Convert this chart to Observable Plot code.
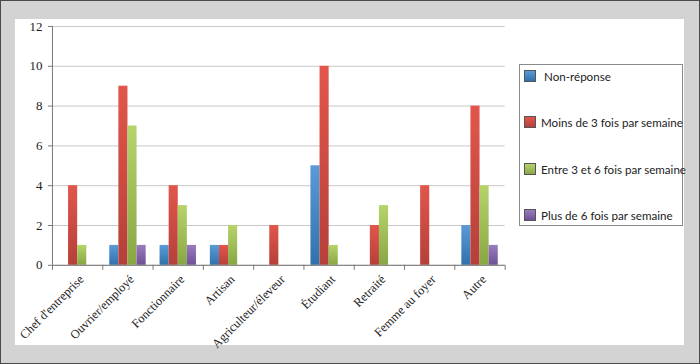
<!DOCTYPE html>
<html>
<head>
<meta charset="utf-8">
<script src="https://cdn.jsdelivr.net/npm/d3@7"></script>
<script src="https://cdn.jsdelivr.net/npm/@observablehq/plot@0.6"></script>
<style>
  html, body { margin: 0; padding: 0; }
  #frame { position: relative; width: 700px; height: 364px; box-sizing: border-box;
           border: 1.5px solid #4a4a4a; background: #d3d3d4; overflow: hidden; }
  #panel { position: absolute; left: 14px; top: 18px; width: 669px; height: 326px; background: #fff; }
  #chart { position: absolute; left: -1.5px; top: -1.5px; }
  #legend { position: absolute; left: 518px; top: 63px; width: 162px; height: 160px;
            border: 1px solid #8a8a8a; background: #fff; box-sizing: content-box;
            font-family: Lato, "Open Sans", sans-serif; font-size: 11.6px; color: #222; }
  .item { position: absolute; left: 4px; height: 12px; display: flex; align-items: center; white-space: nowrap; }
  .sw { width: 10px; height: 10px; border: 1px solid #555; margin-right: 5px; }
</style>
</head>
<body>
<div id="frame"><div id="panel"></div><div id="chart"></div><div id="legend"></div></div>
<script>
const categories = ["Chef d'entreprise", "Ouvrier/employé", "Fonctionnaire", "Artisan",
  "Agriculteur/éleveur", "Étudiant", "Retraité", "Femme au foyer", "Autre"];
const series = ["Non-réponse", "Moins de 3 fois par semaine", "Entre 3 et 6 fois par semaine", "Plus de 6 fois par semaine"];
const nonReponse = [0, 1, 1, 1, 0, 5, 0, 0, 2];
const moinsDe3   = [4, 9, 4, 1, 2, 10, 2, 4, 8];
const entre3et6  = [1, 7, 3, 2, 0, 1, 3, 0, 4];
const plusDe6    = [0, 1, 1, 0, 0, 0, 0, 0, 1];
const yTicks = [0, 2, 4, 6, 8, 10, 12];
const gradTop    = ["#5a9ad6", "#e2564c", "#b6d46a", "#9a7bbf"];
const gradBottom = ["#3172ad", "#b5403a", "#88a744", "#6f5196"];

const valuesBySeries = [nonReponse, moinsDe3, entre3et6, plusDe6];
const rows = [];
categories.forEach((c, ci) => series.forEach((s, si) => {
  rows.push({cat: c, ci, series: s, si, value: valuesBySeries[si][ci]});
}));
const pad = 0.139, w = 0.181;

const chart = Plot.plot({
  width: 700, height: 364,
  marginLeft: 52, marginRight: 195, marginTop: 26, marginBottom: 99,
  style: {background: "transparent", fontFamily: "'Liberation Serif', serif", fontSize: "12px", color: "#222"},
  x: {type: "linear", domain: [0, categories.length], axis: null},
  y: {domain: [0, 12], axis: null},
  color: {type: "ordinal", domain: series, range: series.map((s, i) => `url(#g${i})`)},
  marks: [
    Plot.gridY(yTicks, {stroke: "#c8c8c8", strokeOpacity: 1}),
    Plot.rectY(rows.filter(d => d.value > 0), {
      x1: d => d.ci + pad + d.si * w, x2: d => d.ci + pad + (d.si + 1) * w,
      y1: 0, y2: "value", fill: "series"}),
    Plot.axisY(yTicks, {tickSize: 4, tickPadding: 6, stroke: "#777", fill: "#222", fontSize: 13, label: null}),
    Plot.ruleX([0], {stroke: "#777"}),
    Plot.ruleY([0], {stroke: "#777"}),
    Plot.axisX(d3.range(categories.length + 1), {tickSize: 5, tickFormat: () => "", stroke: "#777", label: null}),
    Plot.axisX(d3.range(categories.length).map(i => i + 0.5), {
      tickSize: 0, tickPadding: 8, tickRotate: -45, dx: 4, dy: 4, fill: "#222", label: null,
      tickFormat: d => categories[Math.floor(d)], fontSize: 12.4})
  ]
});
const defs = series.map((s, i) =>
  `<linearGradient id="g${i}" x1="0" y1="0" x2="0" y2="1"><stop offset="0" stop-color="${gradTop[i]}"/><stop offset="1" stop-color="${gradBottom[i]}"/></linearGradient>`).join("");
chart.insertAdjacentHTML("afterbegin", `<defs>${defs}</defs>`);
document.getElementById("chart").appendChild(chart);

const legend = document.getElementById("legend");
const itemTops = [5, 51, 98, 144];
series.forEach((s, i) => {
  const el = document.createElement("div");
  el.className = "item";
  el.style.top = itemTops[i] + "px";
  el.innerHTML = `<span class="sw" style="background:linear-gradient(${gradTop[i]},${gradBottom[i]})"></span><span style="${i === 0 ? 'margin-left:3px' : ''}">${s}</span>`;
  legend.appendChild(el);
});
</script>
</body>
</html>
